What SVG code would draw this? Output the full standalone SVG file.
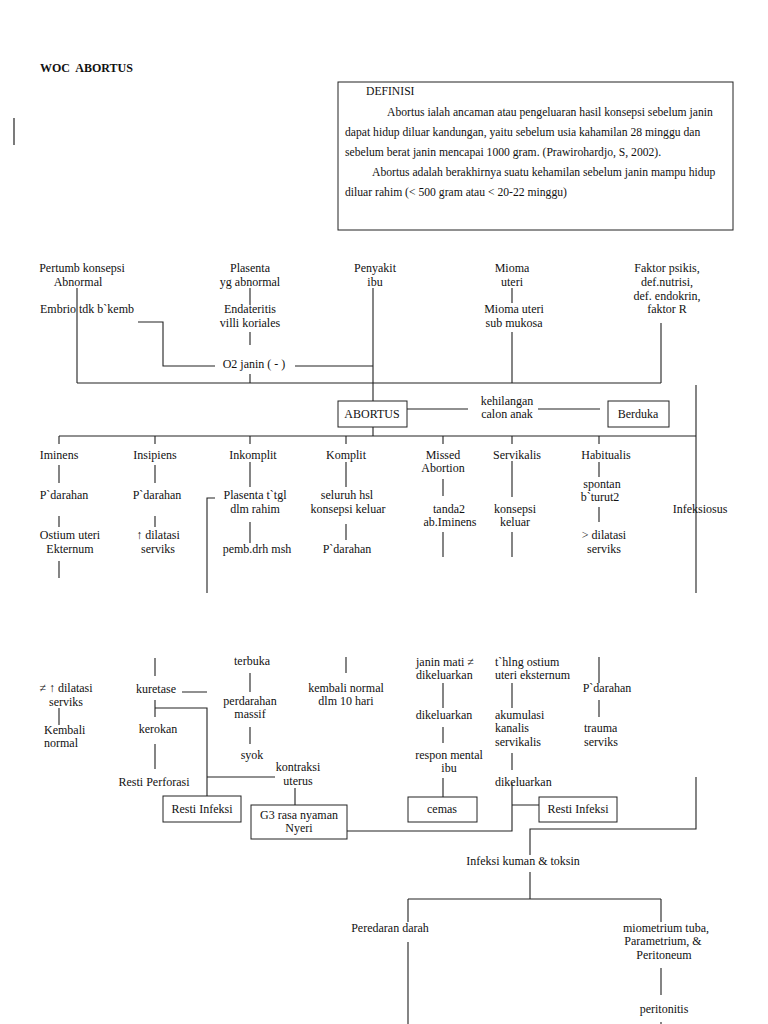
<svg xmlns="http://www.w3.org/2000/svg" width="768" height="1024" viewBox="0 0 768 1024">
<style>
text{font-family:"Liberation Serif","Times New Roman",serif;font-size:12px;fill:#111}
.m{text-anchor:middle}
.d{font-size:11.65px}
.ttl{font-weight:bold;font-size:12px}
.box{fill:#fff;stroke:#222;stroke-width:1}
#connectors path{fill:none;stroke:#222;stroke-width:1.1}
</style>
<rect width="768" height="1024" fill="#fff"/>
<text class="ttl" x="40" y="72" xml:space="preserve">WOC  ABORTUS</text>
<path d="M14,118V145" stroke="#222" stroke-width="1.2"/>

<g id="definisi">
<rect class="box" x="338" y="82" width="395" height="148"/>
<text class="d" x="366" y="95">DEFINISI</text>
<text class="d" x="387" y="116">Abortus ialah ancaman atau pengeluaran hasil konsepsi sebelum janin</text>
<text class="d" x="345" y="136">dapat hidup diluar kandungan, yaitu sebelum usia kahamilan 28 minggu dan</text>
<text class="d" x="345" y="156">sebelum berat janin mencapai 1000 gram. (Prawirohardjo, S, 2002).</text>
<text class="d" x="372" y="176">Abortus adalah berakhirnya suatu kehamilan sebelum janin mampu hidup</text>
<text class="d" x="345" y="196">diluar rahim (&lt; 500 gram atau &lt; 20-22 minggu)</text>
</g>

<g id="connectors">
<path d="M77,288V383M250,288V305M250,332V345M250,374V383M138,322H163V366H215M295,366H373M373,288V401M373,427V436M512,288V303M512,332V383M661,323V383M77,383H661M407,409H468M538,409H600M696,385V593M59,436H696"/>
<path d="M59,436V444M155,436V444M250,436V444M346,436V444M443,436V444M512,436V444M599,436V444"/>
<path d="M59,465V483M59,516V527M59,561V578M155,465V483M155,516V527M250,462V487M250,522V543M215,498H207V593M346,462V487M346,524V540M443,479V496M443,532V557M512,461V497M512,532V557M599,462V477M599,507V522"/>
<path d="M155,658V676M250,673V692M346,657V673M59,708V725M182,692H207M155,700V717M155,708H207V796M207,777H275M155,744V769M250,727V744M295,788V805M347,831H512V783M512,753V770M512,805H539M443,683V708M443,727V743M443,778V797M512,683V708M599,657V683M599,700V717M696,777V829H530V855"/>
<path d="M530,872V899M408,899H661M408,899V922M661,899V922M408,942V1024M661,968V995M661,1022V1024"/>
</g>

<g id="pertumb"><text class="m" x="82" y="272">Pertumb konsepsi</text><text class="m" x="78" y="286">Abnormal</text></g>
<g id="embrio"><text x="40" y="313">Embrio tdk b`kemb</text></g>
<g id="plasenta"><text class="m" x="250" y="272">Plasenta</text><text class="m" x="250" y="286">yg abnormal</text></g>
<g id="endateritis"><text class="m" x="250" y="313">Endateritis</text><text class="m" x="250" y="327">villi koriales</text></g>
<g id="o2janin"><text class="m" x="254" y="368">O2 janin ( - )</text></g>
<g id="penyakit"><text class="m" x="375" y="272">Penyakit</text><text class="m" x="375" y="286">ibu</text></g>
<g id="mioma"><text class="m" x="512" y="272">Mioma</text><text class="m" x="512" y="286">uteri</text></g>
<g id="mioma-sub"><text class="m" x="514" y="313">Mioma uteri</text><text class="m" x="514" y="327">sub mukosa</text></g>
<g id="faktor"><text class="m" x="667" y="272">Faktor psikis,</text><text class="m" x="667" y="286">def.nutrisi,</text><text class="m" x="667" y="300">def. endokrin,</text><text class="m" x="667" y="313">faktor R</text></g>

<g id="abortus"><rect class="box" x="338" y="401" width="69" height="26"/><text class="m" x="372" y="418">ABORTUS</text></g>
<g id="kehilangan"><text class="m" x="507" y="405">kehilangan</text><text class="m" x="507" y="418">calon anak</text></g>
<g id="berduka"><rect class="box" x="608" y="401" width="61" height="26"/><text class="m" x="638" y="418">Berduka</text></g>

<g id="iminens"><text class="m" x="59" y="459">Iminens</text></g>
<g id="iminens-pd"><text class="m" x="64" y="499">P`darahan</text></g>
<g id="ostium"><text class="m" x="70" y="539">Ostium uteri</text><text class="m" x="70" y="553">Ekternum</text></g>
<g id="insipiens"><text class="m" x="155" y="459">Insipiens</text></g>
<g id="insipiens-pd"><text class="m" x="157" y="499">P`darahan</text></g>
<g id="insipiens-dil"><text class="m" x="158" y="539">↑ dilatasi</text><text class="m" x="158" y="553">serviks</text></g>
<g id="inkomplit"><text class="m" x="253" y="459">Inkomplit</text></g>
<g id="plasenta-tgl"><text class="m" x="255" y="499">Plasenta t`tgl</text><text class="m" x="255" y="513">dlm rahim</text></g>
<g id="pemb"><text class="m" x="257" y="553">pemb.drh msh</text></g>
<g id="komplit"><text class="m" x="346" y="459">Komplit</text></g>
<g id="seluruh"><text class="m" x="347" y="499">seluruh hsl</text><text class="m" x="348" y="513">konsepsi keluar</text></g>
<g id="komplit-pd"><text class="m" x="347" y="553">P`darahan</text></g>
<g id="missed"><text class="m" x="443" y="459">Missed</text><text class="m" x="443" y="472">Abortion</text></g>
<g id="tanda2"><text class="m" x="449" y="513">tanda2</text><text class="m" x="450" y="526">ab.Iminens</text></g>
<g id="servikalis"><text class="m" x="517" y="459">Servikalis</text></g>
<g id="konsepsi-keluar"><text class="m" x="515" y="513">konsepsi</text><text class="m" x="515" y="526">keluar</text></g>
<g id="habitualis"><text class="m" x="606" y="459">Habitualis</text></g>
<g id="spontan"><text class="m" x="602" y="488">spontan</text><text class="m" x="600" y="501">b`turut2</text></g>
<g id="habit-dil"><text class="m" x="604" y="539">&gt; dilatasi</text><text class="m" x="604" y="553">serviks</text></g>
<g id="infeksiosus"><text class="m" x="700" y="513">Infeksiosus</text></g>

<g id="ne-dilatasi"><text class="m" x="66" y="692">≠ ↑ dilatasi</text><text class="m" x="66" y="706">serviks</text></g>
<g id="kembali"><text x="44" y="734">Kembali</text><text x="44" y="747">normal</text></g>
<g id="kuretase"><text class="m" x="156" y="693">kuretase</text></g>
<g id="kerokan"><text class="m" x="158" y="733">kerokan</text></g>
<g id="resti-perforasi"><text class="m" x="154" y="786">Resti Perforasi</text></g>
<g id="terbuka"><text class="m" x="252" y="665">terbuka</text></g>
<g id="perdarahan"><text class="m" x="250" y="705">perdarahan</text><text class="m" x="250" y="718">massif</text></g>
<g id="syok"><text class="m" x="252" y="759">syok</text></g>
<g id="kontraksi"><text class="m" x="298" y="771">kontraksi</text><text class="m" x="298" y="785">uterus</text></g>
<g id="resti-infeksi-1"><rect class="box" x="163" y="796" width="78" height="26"/><text class="m" x="202" y="813">Resti Infeksi</text></g>
<g id="g3"><rect class="box" x="251" y="805" width="96" height="34"/><text class="m" x="299" y="819">G3 rasa nyaman</text><text class="m" x="299" y="832">Nyeri</text></g>
<g id="kembali-normal"><text class="m" x="346" y="692">kembali normal</text><text class="m" x="346" y="705">dlm 10 hari</text></g>
<g id="janin-mati"><text x="416" y="666">janin mati ≠</text><text x="416" y="679">dikeluarkan</text></g>
<g id="dikeluarkan-1"><text class="m" x="444" y="719">dikeluarkan</text></g>
<g id="respon"><text class="m" x="449" y="759">respon mental</text><text class="m" x="449" y="772">ibu</text></g>
<g id="cemas"><rect class="box" x="408" y="797" width="69" height="25"/><text class="m" x="442" y="813">cemas</text></g>
<g id="thlng"><text x="495" y="666">t`hlng ostium</text><text x="495" y="679">uteri eksternum</text></g>
<g id="akumulasi"><text x="495" y="719">akumulasi</text><text x="495" y="732">kanalis</text><text x="495" y="746">servikalis</text></g>
<g id="dikeluarkan-2"><text x="495" y="786">dikeluarkan</text></g>
<g id="resti-infeksi-2"><rect class="box" x="539" y="797" width="78" height="25"/><text class="m" x="578" y="813">Resti Infeksi</text></g>
<g id="habit-pd"><text class="m" x="607" y="692">P`darahan</text></g>
<g id="trauma"><text x="584" y="732">trauma</text><text x="584" y="746">serviks</text></g>

<g id="infeksi-kuman"><text class="m" x="523" y="865">Infeksi kuman &amp; toksin</text></g>
<g id="peredaran"><text class="m" x="390" y="932">Peredaran darah</text></g>
<g id="miometrium"><text class="m" x="666" y="932">miometrium tuba,</text><text class="m" x="663" y="945">Parametrium, &amp;</text><text class="m" x="664" y="959">Peritoneum</text></g>
<g id="peritonitis"><text class="m" x="664" y="1013">peritonitis</text></g>
</svg>
